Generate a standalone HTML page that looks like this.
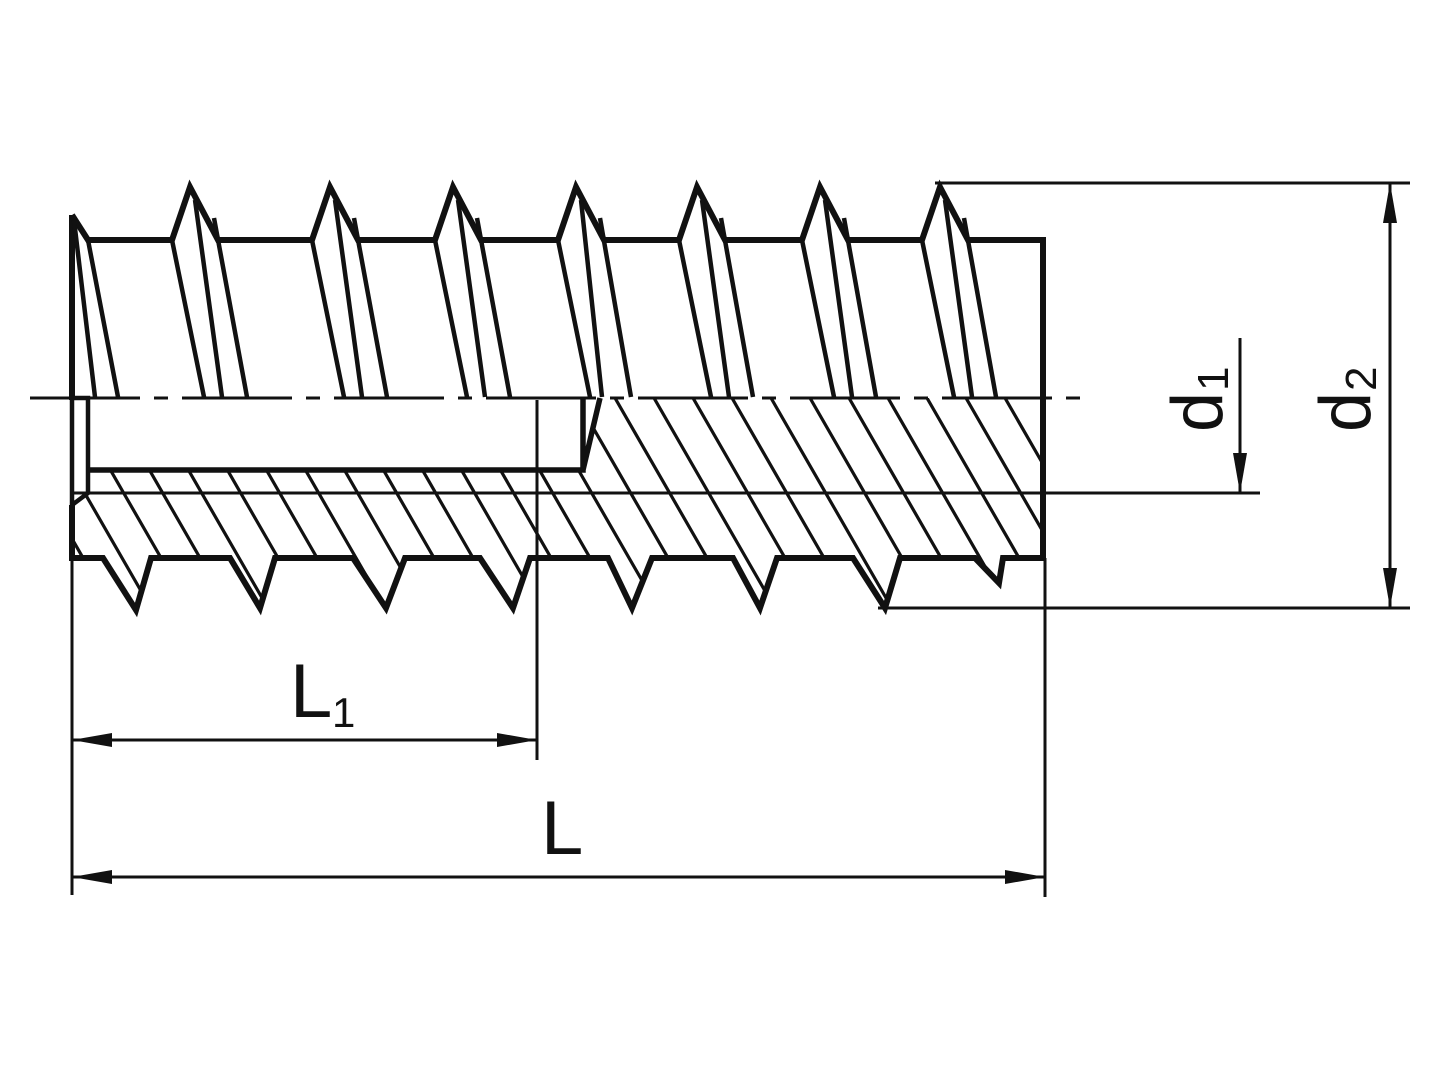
<!DOCTYPE html>
<html><head><meta charset="utf-8"><style>html,body{margin:0;padding:0;background:#fff}svg{display:block}</style></head>
<body>
<svg width="1440" height="1080" viewBox="0 0 1440 1080" xmlns="http://www.w3.org/2000/svg">
<defs>
<clipPath id="c"><path d="M600,398 L1043,398 L1043,558 L1003,558 L999,583 L975,558 L900,558 L885,608 L853,558 L777,558 L760,608 L733,558 L652,558 L632,608 L608,558 L530,558 L513,608 L480,558 L405,558 L386,608 L353,558 L275,558 L260,608 L230,558 L151,558 L136,610 L103,558 L72,558 L72,505 L88,493 L88,470 L583,470 Z"/></clipPath>
<marker id="a" viewBox="0 0 40 14" refX="40" refY="7" markerWidth="40" markerHeight="14" markerUnits="userSpaceOnUse" orient="auto-start-reverse"><path d="M0,0 L40,7 L0,14 Z" fill="#111"/></marker>
</defs>
<g fill="none" stroke="#111">
<path clip-path="url(#c)" stroke-width="3.2" d="M30,398 l122,212 M69,398 l122,212 M108,398 l122,212 M147,398 l122,212 M186,398 l122,212 M225,398 l122,212 M264,398 l122,212 M303,398 l122,212 M342,398 l122,212 M381,398 l122,212 M420,398 l122,212 M459,398 l122,212 M498,398 l122,212 M537,398 l122,212 M576,398 l122,212 M615,398 l122,212 M654,398 l122,212 M693,398 l122,212 M732,398 l122,212 M771,398 l122,212 M810,398 l122,212 M849,398 l122,212 M888,398 l122,212 M927,398 l122,212 M966,398 l122,212 M1005,398 l122,212 M1044,398 l122,212 M-9,398 l122,212 M-48,398 l122,212"/>
<path d="M72,215 L88,240 L172,240 L190,187 L218,240 L312,240 L330,187 L358,240 L435,240 L453,187 L481,240 L558,240 L576,187 L604,240 L679,240 L697,187 L725,240 L802,240 L820,187 L848,240 L922,240 L940,187 L968,240 L1043,240 L1043,558 L1003,558 L999,583 L975,558 L900,558 L885,608 L853,558 L777,558 L760,608 L733,558 L652,558 L632,608 L608,558 L530,558 L513,608 L480,558 L405,558 L386,608 L353,558 L275,558 L260,608 L230,558 L151,558 L136,610 L103,558 L72,558 L72,505" stroke-width="6" stroke-linejoin="miter"/>
<path d="M72,215 L72,400" stroke-width="6"/>
<path d="M72,398 L88,398 L88,493 L72,505 L72,398" stroke-width="4.5"/>
<path d="M88,470 L583,470 L583,398 M583,470 L600,398" stroke-width="5.5"/>
<line x1="72" y1="493" x2="1260" y2="493" stroke-width="3"/>
<path d="M30,398 L1083,398" stroke-width="3" stroke-dasharray="110,14,14,14"/>
<g stroke-width="4.5">
<path d="M74,220 L95,397 M88,240 L118,397"/>
<path d="M172,240 L204,397 M195,200 L222,397 M214,218 L247,397"/>
<path d="M312,240 L344,397 M335,200 L362,397 M354,218 L387,397"/>
<path d="M435,240 L467,397 M458,200 L485,397 M477,218 L510,397"/>
<path d="M558,240 L590,397 M581,200 L602,397 M600,218 L631,397"/>
<path d="M679,240 L711,397 M702,200 L729,397 M721,218 L753,397"/>
<path d="M802,240 L834,397 M825,200 L852,397 M844,218 L876,397"/>
<path d="M922,240 L954,397 M945,200 L972,397 M964,218 L996,397"/>
</g>
<g stroke-width="3">
<line x1="935" y1="183" x2="1410" y2="183"/>
<line x1="878" y1="608" x2="1410" y2="608"/>
<line x1="1390" y1="183" x2="1390" y2="608" marker-start="url(#a)" marker-end="url(#a)"/>
<line x1="1240" y1="338" x2="1240" y2="493" marker-end="url(#a)"/>
<line x1="537" y1="400" x2="537" y2="760"/>
<line x1="72" y1="558" x2="72" y2="895"/>
<line x1="1045" y1="558" x2="1045" y2="897"/>
<line x1="72" y1="740" x2="537" y2="740" marker-start="url(#a)" marker-end="url(#a)"/>
<line x1="72" y1="877" x2="1045" y2="877" marker-start="url(#a)" marker-end="url(#a)"/>
</g>
</g>
<g font-family="Liberation Sans, sans-serif" fill="#111">
<text x="290" y="717" font-size="76">L</text><text x="332" y="727" font-size="42">1</text>
<text x="541" y="854" font-size="76">L</text>
<g transform="translate(1222,432) rotate(-90)"><text x="0" y="0" font-size="72">d</text><text x="41" y="6" font-size="44">1</text></g>
<g transform="translate(1370,432) rotate(-90)"><text x="0" y="0" font-size="72">d</text><text x="41" y="6" font-size="44">2</text></g>
</g>
</svg>
</body></html>
